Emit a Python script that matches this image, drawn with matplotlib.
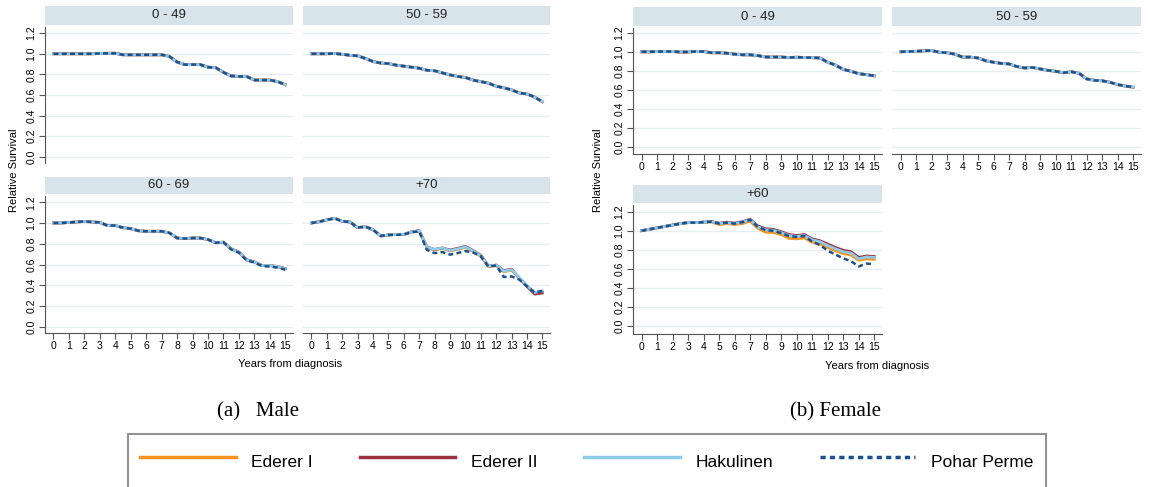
import numpy as np
import matplotlib
matplotlib.use('Agg')
import matplotlib.pyplot as plt

plt.rcParams['font.family'] = ['Liberation Sans', 'DejaVu Sans']

years = np.arange(0, 15.5, 0.5)

# ---- Male ----
m049 = [1.0, 1.0, 1.0, 1.0, 1.0, 1.0, 1.003, 1.005, 1.005, 0.99, 0.99, 0.99, 0.99, 0.99, 0.99, 0.975,
        0.92, 0.895, 0.895, 0.895, 0.87, 0.865, 0.82, 0.785, 0.78, 0.78, 0.745, 0.745, 0.745, 0.73, 0.70]
m5059 = [1.0, 1.0, 1.0, 1.003, 0.995, 0.985, 0.98, 0.955, 0.925, 0.91, 0.905, 0.89, 0.88, 0.87, 0.86, 0.84,
         0.835, 0.815, 0.795, 0.78, 0.77, 0.745, 0.73, 0.715, 0.685, 0.67, 0.65, 0.62, 0.61, 0.58, 0.535]
m6069 = [1.0, 1.0, 1.005, 1.01, 1.015, 1.01, 1.005, 0.975, 0.975, 0.955, 0.945, 0.925, 0.92, 0.92, 0.92, 0.905,
         0.855, 0.85, 0.855, 0.855, 0.84, 0.81, 0.815, 0.75, 0.72, 0.645, 0.625, 0.59, 0.59, 0.58, 0.56]
m6069_pp = [1.0, 1.0, 1.005, 1.01, 1.015, 1.01, 1.005, 0.975, 0.975, 0.955, 0.945, 0.925, 0.92, 0.92, 0.92, 0.905,
            0.855, 0.85, 0.855, 0.855, 0.84, 0.81, 0.815, 0.745, 0.715, 0.64, 0.62, 0.585, 0.58, 0.57, 0.55]
m70_e1 = [1.0, 1.012, 1.03, 1.045, 1.016, 1.01, 0.955, 0.965, 0.935, 0.875, 0.885, 0.89, 0.89, 0.915, 0.925, 0.765,
          0.74, 0.755, 0.73, 0.745, 0.765, 0.725, 0.68, 0.58, 0.59, 0.53, 0.545, 0.47, 0.395, 0.325, 0.34]
m70_e2 = [1.0, 1.012, 1.03, 1.045, 1.016, 1.01, 0.955, 0.965, 0.935, 0.875, 0.885, 0.89, 0.89, 0.915, 0.925, 0.77,
          0.745, 0.76, 0.74, 0.755, 0.775, 0.735, 0.69, 0.585, 0.595, 0.54, 0.555, 0.47, 0.39, 0.315, 0.325]
m70_hk = [1.0, 1.012, 1.03, 1.045, 1.016, 1.01, 0.955, 0.965, 0.935, 0.875, 0.885, 0.89, 0.89, 0.915, 0.925, 0.77,
          0.745, 0.76, 0.735, 0.75, 0.77, 0.73, 0.685, 0.585, 0.595, 0.535, 0.55, 0.475, 0.40, 0.33, 0.345]
m70_pp = [1.0, 1.012, 1.03, 1.045, 1.016, 1.01, 0.955, 0.965, 0.935, 0.875, 0.885, 0.885, 0.89, 0.91, 0.92, 0.74,
          0.71, 0.72, 0.695, 0.71, 0.73, 0.715, 0.68, 0.58, 0.59, 0.48, 0.485, 0.455, 0.39, 0.33, 0.345]

# ---- Female ----
f049 = [1.0, 1.0, 1.002, 1.003, 1.003, 0.997, 0.998, 1.003, 1.003, 0.99, 0.99, 0.985, 0.975, 0.968, 0.968, 0.96,
        0.945, 0.945, 0.945, 0.94, 0.943, 0.94, 0.938, 0.935, 0.89, 0.86, 0.815, 0.795, 0.77, 0.76, 0.747]
f5059 = [1.0, 1.003, 1.005, 1.01, 1.013, 0.995, 0.99, 0.975, 0.944, 0.944, 0.935, 0.905, 0.89, 0.878, 0.872, 0.845,
         0.83, 0.835, 0.82, 0.805, 0.795, 0.78, 0.79, 0.775, 0.715, 0.70, 0.695, 0.68, 0.655, 0.64, 0.628]
f60_e1 = [1.0, 1.015, 1.03, 1.045, 1.06, 1.075, 1.085, 1.085, 1.09, 1.09, 1.065, 1.075, 1.065, 1.075, 1.10, 1.025,
          0.985, 0.98, 0.96, 0.92, 0.915, 0.925, 0.88, 0.86, 0.825, 0.79, 0.76, 0.745, 0.69, 0.705, 0.70]
f60_e2 = [1.0, 1.015, 1.03, 1.045, 1.06, 1.075, 1.085, 1.085, 1.09, 1.097, 1.08, 1.09, 1.08, 1.095, 1.12, 1.05,
          1.02, 1.015, 0.99, 0.96, 0.95, 0.96, 0.915, 0.895, 0.86, 0.825, 0.795, 0.78, 0.72, 0.735, 0.73]
f60_hk = [1.0, 1.015, 1.03, 1.045, 1.06, 1.075, 1.085, 1.085, 1.09, 1.095, 1.075, 1.085, 1.075, 1.09, 1.115, 1.04,
          1.01, 1.005, 0.98, 0.95, 0.94, 0.95, 0.905, 0.885, 0.845, 0.81, 0.78, 0.765, 0.705, 0.725, 0.72]
f60_pp = [1.0, 1.015, 1.03, 1.045, 1.06, 1.075, 1.085, 1.085, 1.09, 1.095, 1.075, 1.085, 1.075, 1.09, 1.115, 1.04,
          1.005, 1.0, 0.975, 0.945, 0.935, 0.945, 0.885, 0.85, 0.79, 0.75, 0.71, 0.68, 0.625, 0.655, 0.65]

methods = ['Ederer I', 'Ederer II', 'Hakulinen', 'Pohar Perme']
colors = ['#f7931e', '#9b3440', '#8fcbe8', '#1d4f8c']
yticks = [0.0, 0.2, 0.4, 0.6, 0.8, 1.0, 1.2]
xticks = list(range(16))

W, H = 1149, 487
fig = plt.figure(figsize=(W / 100, H / 100), dpi=100)


def px(x0, y0, x1, y1):
    return [x0 / W, 1 - y1 / H, (x1 - x0) / W, (y1 - y0) / H]


def panel(x0, x1, y_head, y0, y1, title, series, ylim, show_y, show_x):
    hax = fig.add_axes(px(x0, y_head, x1, y0 - 2))
    hax.set_facecolor('#d8e4eb')
    hax.set_xticks([])
    hax.set_yticks([])
    for s in hax.spines.values():
        s.set_visible(False)
    hax.text(0.5, 0.5, title, ha='center', va='center', fontsize=9.5, color='#222')

    ax = fig.add_axes(px(x0, y0, x1, y1))
    for i, (name, vals) in enumerate(zip(methods, series)):
        if name == 'Pohar Perme':
            ax.plot(years, vals, color=colors[i], lw=1.8, ls=(0, (2, 1.3)), zorder=5)
        else:
            ax.plot(years, vals, color=colors[i], lw=2.0, zorder=2 + i)
    ax.set_xlim(-0.55, 15.5)
    ax.set_ylim(*ylim)
    ax.set_yticks(yticks)
    ax.set_xticks(xticks)
    ax.grid(axis='y', color='#e6eef1', lw=1)
    ax.set_axisbelow(True)
    for s in ['top', 'right']:
        ax.spines[s].set_visible(False)
    ax.spines['left'].set_visible(show_y)
    ax.spines['bottom'].set_visible(show_x)
    ax.spines['left'].set_color('#555')
    ax.spines['bottom'].set_color('#555')
    ax.tick_params(axis='both', length=4, width=0.8, color='#555', labelsize=7.5, pad=2)
    if show_y:
        ax.set_yticklabels([f'{t:.1f}' for t in yticks], rotation=90, va='center')
    else:
        ax.tick_params(axis='y', left=False, labelleft=False)
    if not show_x:
        ax.tick_params(axis='x', bottom=False, labelbottom=False)
    return ax


# male
panel(45, 293, 6, 27, 163, '0 - 49', [m049, m049, m049, m049], (-0.06, 1.26), True, False)
panel(303, 550, 6, 27, 163, '50 - 59', [m5059, m5059, m5059, m5059], (-0.06, 1.26), False, False)
panel(45, 293, 177, 196, 333, '60 - 69', [m6069, m6069, m6069, m6069_pp], (-0.06, 1.26), True, True)
panel(303, 550, 177, 196, 333, '+70', [m70_e1, m70_e2, m70_hk, m70_pp], (-0.06, 1.26), False, True)

# female
panel(633, 882, 7, 28, 154, '0 - 49', [f049, f049, f049, f049], (-0.074, 1.25), True, True)
panel(892, 1141, 7, 28, 154, '50 - 59', [f5059, f5059, f5059, f5059], (-0.074, 1.25), False, True)
panel(633, 882, 185, 205, 334, '+60', [f60_e1, f60_e2, f60_hk, f60_pp], (-0.084, 1.27), True, True)

fig.text(14 / W, 1 - 170 / H, 'Relative Survival', rotation=90, ha='center', va='center', fontsize=8)
fig.text(598 / W, 1 - 170 / H, 'Relative Survival', rotation=90, ha='center', va='center', fontsize=8)
fig.text(290 / W, 1 - 364 / H, 'Years from diagnosis', ha='center', va='center', fontsize=8)
fig.text(877 / W, 1 - 366 / H, 'Years from diagnosis', ha='center', va='center', fontsize=8)

fig.text(258 / W, 1 - 412 / H, '(a)   Male', ha='center', va='center', fontsize=15, family='Liberation Serif')
fig.text(836 / W, 1 - 412 / H, '(b) Female', ha='center', va='center', fontsize=15, family='Liberation Serif')

handles = [plt.Line2D([], [], color=colors[0], lw=2.5),
           plt.Line2D([], [], color=colors[1], lw=2.5),
           plt.Line2D([], [], color=colors[2], lw=2.5),
           plt.Line2D([], [], color=colors[3], lw=2.5, ls=(0, (1.5, 1.2)))]
leg = fig.legend(handles, methods, ncol=4, loc='upper left', bbox_to_anchor=(128 / W, 1 - 434 / H),
                 fontsize=12.5, handlelength=5.5, handleheight=2.4, handletextpad=0.9, columnspacing=2.7,
                 frameon=True, fancybox=False, borderpad=0.7, borderaxespad=0)
leg.get_frame().set_edgecolor('#777')
leg.get_frame().set_linewidth(1.5)

fig.savefig('out.png', dpi=100)
